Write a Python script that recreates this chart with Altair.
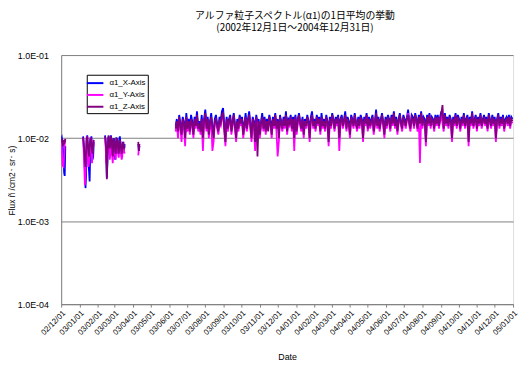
import altair as alt
import pandas as pd

# ---------------- data (values in units of 1e-3 /(cm2 sr s)) ----------------
SERIES = ["α1_X-Axis", "α1_Y-Axis", "α1_Z-Axis"]
COLORS = ["#0000FF", "#FF00FF", "#800080"]

TITLE_LINES = ["アルファ粒子スペクトル(α1)の1日平均の挙動", "(2002年12月1日～2004年12月31日)"]
Y_TITLE = "Flux ñ /cm2･ sr･ s)"
X_TITLE = "Date"

X_DOMAIN = ("2002-12-01", "2005-01-01")
Y_DOMAIN = [1e-4, 1e-1]
Y_TICKS = [1e-4, 1e-3, 1e-2, 1e-1]

# segment A: 2002-12-01, daily
SEG_A_START = "2002-12-01"
SEG_A_STEP = 1
SEG_A_X = [9.8, 10.2, 9.0, 7.5, 5.5, 3.8, 3.5, 8.0]
SEG_A_Y = [9.5, 8.0, 5.0, 4.6, 4.5, 6.0, 8.5, 9.6]
SEG_A_Z = [10.0, 9.2, 8.8, 8.0, 9.5, 8.5, 9.0, 9.8]

# segment B: 2003-01-07, daily
SEG_B_START = "2003-01-07"
SEG_B_STEP = 1
SEG_B_X = [10.5, 8.0, 6.0, 4.0, 2.5, 3.5, 9.5, 10.8, 8.0, 5.0, 4.0, 3.0, 6.5, 9.0, 10.5, 7.5, 5.5, 6.0, 9.0]
SEG_B_Y = [10.0, 7.0, 4.5, 2.7, 3.5, 6.0, 10.5, 9.0, 6.0, 4.5, 5.0, 7.5, 10.2, 8.5, 6.5, 5.0, 7.0, 9.5, 8.0]
SEG_B_Z = [10.2, 9.0, 7.0, 5.5, 4.5, 6.5, 9.5, 10.5, 8.5, 7.0, 6.0, 8.0, 9.5, 10.0, 8.5, 7.0, 6.5, 8.5, 9.5]

# segment C: 2003-02-13, daily
SEG_C_START = "2003-02-13"
SEG_C_STEP = 1
SEG_C_X = [10.8, 9.0, 6.0, 3.3, 5.0, 9.5, 10.5, 8.0, 7.0, 9.5, 10.8, 8.5, 6.5, 7.5, 10.0, 9.0, 7.0,
           5.5, 8.0, 10.2, 9.5, 7.5, 6.5, 8.0, 9.8, 10.5, 8.5, 7.0, 6.0, 7.5, 9.0, 8.0, 7.0, 8.5]
SEG_C_Y = [10.0, 8.0, 5.0, 5.5, 7.0, 9.0, 10.2, 7.5, 5.5, 6.5, 9.5, 8.5, 6.0, 5.0, 7.0, 9.0, 8.0,
           6.0, 5.5, 7.5, 9.5, 8.0, 6.5, 5.8, 7.0, 9.0, 8.5, 6.5, 5.5, 6.0, 7.5, 8.5, 7.0, 6.5]
SEG_C_Z = [10.5, 9.5, 7.0, 3.2, 6.0, 9.0, 10.8, 9.0, 7.5, 8.5, 10.5, 9.5, 7.5, 6.0, 8.5, 10.0, 9.0,
           7.0, 6.5, 8.5, 10.0, 9.0, 7.5, 6.5, 8.0, 9.5, 9.0, 7.5, 6.5, 7.0, 8.5, 9.0, 7.5, 8.0]

# segment D: 2003-04-10, daily
SEG_D_START = "2003-04-10"
SEG_D_STEP = 1
SEG_D_X = [8.5, 7.0, 8.0]
SEG_D_Y = [6.2, 7.5, 8.0]
SEG_D_Z = [9.0, 7.0, 8.5]

# segment E: 2003-06-12 .. 2004-12-31, every 2 days
SEG_E_START = "2003-06-12"
SEG_E_STEP = 2
SEG_E_X = [
    14, 17, 12, 19, 15, 13, 18, 16, 11, 20, 14, 17, 13, 19, 16, 12, 18, 15, 21, 14,
    16, 13, 19, 12, 17, 22, 15, 18, 13, 16, 20, 14, 11, 17, 19, 15, 13, 18, 16, 21,
    23, 15, 12, 18, 14, 17, 19, 13, 16, 20, 15, 12, 17, 14, 19, 16, 18, 13, 15, 20,
    14, 17, 21, 15, 12, 18, 16, 13, 19, 15, 17, 11, 16, 20, 14, 18, 13, 17, 15, 19,
    16, 13, 18, 15, 20, 14, 17, 12, 19, 16, 14, 18, 15, 21, 13, 17, 16, 19, 14, 18,
    15, 19, 13, 17, 20, 16, 14, 18, 12, 17, 15, 19, 16, 13, 18, 21, 15, 17, 14, 19,
    16, 18, 13, 20, 15, 17, 14, 19, 16, 12, 18, 15, 20, 17, 14, 18, 16, 19, 13, 17,
    19, 15, 17, 21, 14, 18, 16, 13, 19, 17, 15, 20, 16, 14, 18, 15, 19, 17, 13, 18,
    16, 20, 14, 18, 15, 17, 19, 13, 16, 22, 15, 18, 14, 17, 20, 16, 13, 18, 15, 19,
    17, 14, 19, 16, 21, 15, 18, 13, 17, 20, 16, 14, 19, 17, 15, 18, 22, 16, 14, 19,
    18, 15, 20, 17, 14, 19, 16, 21, 15, 18, 17, 13, 19, 16, 20, 15, 18, 17, 14, 19,
    16, 19, 15, 18, 21, 17, 14, 20, 16, 18, 15, 19, 17, 13, 18, 16, 20, 15, 19, 17,
    14, 18, 16, 20, 15, 17, 19, 13, 18, 16, 21, 15, 17, 19, 14, 18, 16, 20, 15, 17,
    19, 16, 18, 14, 20, 17, 15, 19, 16, 18, 13, 17, 20, 15, 18, 16, 19, 14, 17, 18,
    16, 19, 15, 18, 17,
]
SEG_E_Y = [
    12, 15, 10, 17, 13, 9, 16, 14, 8, 17, 12, 15, 11, 16, 14, 10, 16, 13, 18, 12,
    14, 11, 16, 7, 15, 19, 12, 16, 10, 14, 17, 7, 9, 15, 16, 13, 11, 15, 14, 18,
    19, 12, 8, 16, 12, 15, 17, 11, 14, 18, 13, 9, 15, 12, 17, 14, 16, 10, 13, 17,
    12, 15, 18, 13, 9, 16, 14, 7, 17, 13, 15, 10, 14, 17, 12, 16, 11, 15, 13, 17,
    14, 10, 16, 13, 18, 12, 6, 9, 17, 14, 12, 16, 13, 18, 11, 15, 14, 17, 12, 16,
    7, 17, 11, 15, 18, 14, 12, 16, 10, 15, 13, 17, 14, 9, 16, 18, 13, 15, 12, 17,
    14, 16, 11, 17, 13, 15, 12, 17, 14, 8, 16, 13, 18, 15, 12, 16, 14, 17, 7, 15,
    17, 13, 15, 18, 12, 16, 14, 10, 17, 15, 13, 18, 14, 12, 16, 13, 17, 15, 9, 16,
    14, 18, 12, 16, 13, 15, 17, 11, 14, 19, 13, 16, 12, 15, 18, 14, 10, 16, 13, 17,
    15, 12, 17, 14, 19, 13, 16, 11, 15, 18, 14, 12, 17, 15, 13, 16, 20, 14, 12, 17,
    16, 13, 18, 15, 12, 17, 5, 19, 13, 16, 15, 8, 17, 14, 18, 13, 16, 15, 12, 17,
    14, 17, 13, 16, 19, 15, 12, 18, 14, 16, 13, 17, 15, 9, 16, 14, 18, 13, 17, 15,
    12, 16, 14, 18, 13, 15, 17, 8, 16, 14, 19, 13, 15, 17, 12, 16, 14, 18, 13, 15,
    17, 14, 16, 12, 18, 15, 13, 17, 14, 16, 9, 15, 18, 13, 16, 14, 17, 12, 15, 16,
    14, 17, 13, 16, 15,
]
SEG_E_Z = [
    13, 16, 12, 18, 14, 11, 17, 15, 10, 18, 13, 16, 12, 17, 15, 11, 17, 14, 19, 13,
    15, 12, 17, 10, 16, 20, 13, 17, 11, 15, 18, 13, 10, 16, 17, 14, 12, 16, 15, 19,
    20, 13, 9, 17, 13, 16, 18, 12, 15, 19, 14, 10, 16, 13, 18, 15, 17, 11, 14, 18,
    13, 16, 19, 14, 10, 17, 15, 9, 18, 6, 16, 11, 15, 18, 13, 17, 12, 16, 12, 18,
    15, 11, 17, 14, 19, 13, 16, 10, 18, 15, 13, 17, 14, 19, 12, 16, 15, 18, 13, 17,
    10, 18, 12, 16, 19, 15, 13, 17, 11, 16, 14, 18, 15, 10, 17, 19, 14, 16, 13, 18,
    15, 17, 12, 18, 14, 16, 13, 18, 15, 9, 17, 14, 19, 16, 13, 17, 15, 18, 10, 16,
    18, 14, 16, 19, 13, 17, 15, 11, 18, 16, 14, 19, 15, 13, 17, 14, 18, 16, 10, 17,
    15, 19, 13, 17, 14, 16, 18, 12, 15, 20, 14, 17, 13, 16, 19, 15, 11, 17, 14, 18,
    16, 13, 18, 15, 20, 14, 17, 12, 16, 19, 15, 13, 18, 16, 14, 17, 19, 15, 13, 18,
    17, 14, 19, 16, 13, 18, 15, 20, 14, 17, 16, 9, 18, 15, 19, 14, 17, 16, 13, 18,
    15, 18, 14, 17, 20, 25, 13, 19, 15, 17, 14, 18, 16, 10, 17, 15, 19, 14, 18, 16,
    13, 17, 15, 19, 14, 16, 18, 9, 17, 15, 20, 14, 16, 18, 13, 17, 15, 19, 14, 16,
    18, 15, 17, 13, 19, 16, 14, 18, 15, 17, 10, 16, 19, 14, 17, 15, 18, 13, 16, 17,
    15, 18, 14, 17, 16,
]

SEGMENTS = [
    ("A", SEG_A_START, SEG_A_STEP, [SEG_A_X, SEG_A_Y, SEG_A_Z]),
    ("B", SEG_B_START, SEG_B_STEP, [SEG_B_X, SEG_B_Y, SEG_B_Z]),
    ("C", SEG_C_START, SEG_C_STEP, [SEG_C_X, SEG_C_Y, SEG_C_Z]),
    ("D", SEG_D_START, SEG_D_STEP, [SEG_D_X, SEG_D_Y, SEG_D_Z]),
    ("E", SEG_E_START, SEG_E_STEP, [SEG_E_X, SEG_E_Y, SEG_E_Z]),
]

rows = []
for seg, start, step, arrays in SEGMENTS:
    t0 = pd.Timestamp(start)
    for name, vals in zip(SERIES, arrays):
        for i, v in enumerate(vals):
            rows.append({
                "date": (t0 + pd.Timedelta(days=i * step)).strftime("%Y-%m-%dT00:00:00"),
                "flux": v * 1e-3,
                "series": name,
                "seg": seg,
            })
df = pd.DataFrame(rows)


def dt(s):
    t = pd.Timestamp(s)
    return alt.DateTime(year=t.year, month=t.month, date=t.day)


month_ticks = [dt(t) for t in pd.date_range(X_DOMAIN[0], X_DOMAIN[1], freq="MS")]

FONT = "Liberation Sans"

chart = alt.Chart(df).mark_line(strokeWidth=1.8, clip=True).encode(
    x=alt.X(
        "date:T",
        title=X_TITLE,
        scale=alt.Scale(domain=[dt(X_DOMAIN[0]), dt(X_DOMAIN[1])]),
        axis=alt.Axis(
            values=month_ticks,
            format="%y/%m/%d",
            labelAngle=-45,
            labelFontSize=8,
            labelFont=FONT,
            labelColor="#000000",
            labelOverlap=False,
            labelPadding=2,
            tickSize=3,
            tickColor="#808080",
            domainColor="#808080",
            grid=False,
            titleFont=FONT,
            titleFontSize=9,
            titleFontWeight="normal",
            titleColor="#000000",
            titleY=56,
            titleBaseline="alphabetic",
        ),
    ),
    y=alt.Y(
        "flux:Q",
        title=Y_TITLE,
        scale=alt.Scale(type="log", domain=Y_DOMAIN),
        axis=alt.Axis(
            values=Y_TICKS,
            labelExpr="'1.0E-0' + toString(round(-log(datum.value) / LN10))",
            labelFontSize=9,
            labelFont=FONT,
            labelColor="#000000",
            labelPadding=13,
            ticks=False,
            grid=True,
            gridColor="#808080",
            gridWidth=1,
            gridOpacity=1,
            domainColor="#808080",
            titleFont=FONT,
            titleFontSize=8.5,
            titleFontWeight="normal",
            titleColor="#000000",
            titleX=-50,
            titleY=127,
            titleAlign="center",
            titleBaseline="middle",
        ),
    ),
    color=alt.Color(
        "series:N",
        scale=alt.Scale(domain=SERIES, range=COLORS),
        legend=alt.Legend(
            title=None,
            orient="none",
            legendX=26,
            legendY=20,
            strokeColor="#000000",
            fillColor="#ffffff",
            padding=2,
            symbolType="M-1.6,0L1.6,0",
            symbolStrokeWidth=2,
            symbolSize=110,
            labelFont=FONT,
            labelFontSize=8,
            labelColor="#000000",
            labelOffset=8,
            rowPadding=1,
        ),
    ),
    detail="seg:N",
).properties(
    width=459,
    height=253,
    padding={"left": 54, "top": 45, "right": 5, "bottom": 59},
    autosize=alt.AutoSizeParams(type="none"),
    title=alt.TitleParams(
        text=TITLE_LINES,
        font="Noto Sans CJK JP",
        fontSize=10,
        fontWeight="normal",
        color="#000000",
        anchor="middle",
        offset=18,
        dx=8,
        lineHeight=13,
    ),
).configure_view(stroke=None).configure(background="#ffffff")

chart.save("out.html", embed_options={"renderer": "svg", "actions": False})
